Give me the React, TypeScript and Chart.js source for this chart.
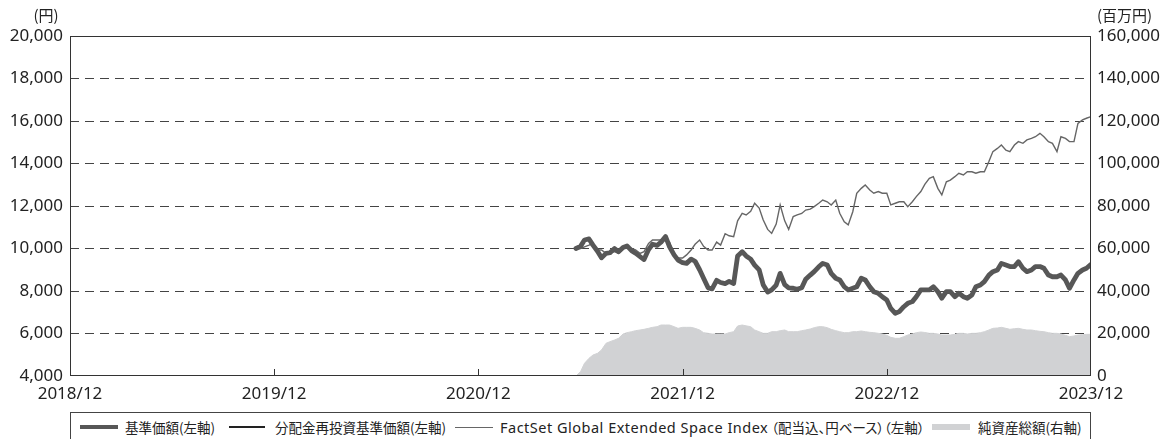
import React, { useEffect, useRef } from 'react';
import { Chart, registerables } from 'chart.js';

Chart.register(...registerables);

const CJK = '"Noto Sans CJK JP", "Noto Sans", sans-serif';
const NUM = '"Noto Sans", "Noto Sans CJK JP", sans-serif';

// Observation dates: 2021/05/23, then the 1st, 8th, 16th and 23rd of every month, then 2023/12/01
const dates: string[] = ['2021/05/23'];
for (let y = 2021; y <= 2023; y++) {
  for (let m = 1; m <= 12; m++) {
    if ((y === 2021 && m < 6) || (y === 2023 && m > 11)) continue;
    const mm = String(m).padStart(2, '0');
    ['01', '08', '16', '23'].forEach((d) => dates.push(`${y}/${mm}/${d}`));
  }
}
dates.push('2023/12/01');

// 基準価額 (円)
const fundNav = [
  10000, 10100, 10400, 10450, 10160, 9870, 9560, 9770, 9800, 10000, 9850, 10050, 10120, 9900,
  9780, 9620, 9480, 9950, 10200, 10150, 10300, 10560, 10080, 9700, 9450, 9330, 9300, 9500,
  9400, 9000, 8600, 8150, 8100, 8500, 8400, 8350, 8450, 8350, 9650, 9850, 9650, 9500,
  9220, 8990, 8300, 7950, 8050, 8280, 8830, 8300, 8150, 8130, 8080, 8150, 8550,
  8750, 8910, 9140, 9300, 9220, 8830, 8600, 8520, 8200, 8050, 8130, 8200, 8600,
  8520, 8200, 7970, 7890, 7730, 7580, 7180, 6950, 7030, 7260, 7420, 7500, 7730, 8050,
  8050, 8050, 8200, 7970, 7660, 7970, 7970, 7730, 7900, 7730, 7660, 7810, 8200, 8280,
  8440, 8750, 8910, 8990, 9300, 9220, 9150, 9150, 9380, 9070, 8910, 8990, 9150, 9150,
  9070, 8750, 8670, 8670, 8750, 8520, 8130, 8520, 8830, 8990, 9070, 9250,
];

// 分配金再投資基準価額 (円) - no distributions were paid, so it equals 基準価額
const reinvestedNav = [
  10000, 10100, 10400, 10450, 10160, 9870, 9560, 9770, 9800, 10000, 9850, 10050, 10120, 9900,
  9780, 9620, 9480, 9950, 10200, 10150, 10300, 10560, 10080, 9700, 9450, 9330, 9300, 9500,
  9400, 9000, 8600, 8150, 8100, 8500, 8400, 8350, 8450, 8350, 9650, 9850, 9650, 9500,
  9220, 8990, 8300, 7950, 8050, 8280, 8830, 8300, 8150, 8130, 8080, 8150, 8550,
  8750, 8910, 9140, 9300, 9220, 8830, 8600, 8520, 8200, 8050, 8130, 8200, 8600,
  8520, 8200, 7970, 7890, 7730, 7580, 7180, 6950, 7030, 7260, 7420, 7500, 7730, 8050,
  8050, 8050, 8200, 7970, 7660, 7970, 7970, 7730, 7900, 7730, 7660, 7810, 8200, 8280,
  8440, 8750, 8910, 8990, 9300, 9220, 9150, 9150, 9380, 9070, 8910, 8990, 9150, 9150,
  9070, 8750, 8670, 8670, 8750, 8520, 8130, 8520, 8830, 8990, 9070, 9250,
];

// FactSet Global Extended Space Index (配当込、円ベース), rebased to 10,000
const factsetIndex = [
  10000, 10000, 10080, 10160, 10240, 9930, 9930, 9770, 9850, 9850, 9770, 10000, 10080, 10000,
  9930, 9770, 9850, 10240, 10400, 10400, 10400, 10480, 10300, 9750, 9550, 9550, 9700, 9930,
  10200, 10400, 10100, 9930, 9930, 10300, 10160, 10700, 10600, 10560, 11300, 11650, 11580, 11750,
  12130, 11900, 11350, 10900, 10710, 11150, 12050, 11300, 10900, 11500, 11580, 11650, 11810, 11850,
  11970, 12130, 12280, 12200, 12050, 12280, 11660, 11260, 11110, 11730, 12600, 12830,
  12990, 12750, 12600, 12680, 12600, 12600, 12050, 12130, 12200, 12200, 11970, 12200, 12440, 12680,
  13020, 13300, 13380, 12830, 12520, 13140, 13220, 13380, 13540, 13460, 13610, 13610, 13540, 13610,
  13610, 14090, 14560, 14710, 14870, 14630, 14560, 14870, 15030, 14950, 15110, 15180, 15260, 15420,
  15260, 15030, 14950, 14560, 15260, 15180, 15030, 15030, 15890, 16050, 16130, 16210,
];

// 純資産総額 (百万円)
const netAssets = [
  0, 2020, 5960, 8330, 9880, 10680, 12240, 15390, 16160, 16940, 17720, 19760, 20390, 20860,
  21330, 21650, 21960, 22430, 22900, 23220, 24000, 24000, 24000, 23220, 22430, 22900, 22900, 22900,
  22430, 21650, 20390, 20080, 19760, 19760, 19760, 19760, 20390, 20860, 23530, 24000,
  23600, 23220, 21650, 20860, 20080, 20080, 20860, 20860, 21330, 21650, 20860, 20860, 20860, 21330,
  21650, 22120, 22750, 23220, 23220, 22750, 21960, 21330, 20860, 20390, 20390, 20860, 20860, 21180,
  20860, 20550, 20390, 20080, 19760, 19130, 18200, 17730, 17730, 18510, 19290, 19760, 20390, 20700,
  20480, 20080, 20080, 19760, 19290, 19290, 19290, 19600, 20080, 20080, 19760, 20080, 20080, 20390,
  20860, 21650, 22430, 22590, 22900, 22430, 21960, 22270, 22430, 21960, 21650, 21650, 21330, 21020,
  20860, 20390, 20080, 20080, 19760, 19130, 18510, 18820, 19290, 19450, 19600, 19600,
];

const xTickLabels = ['2018/12', '2019/12', '2020/12', '2021/12', '2022/12', '2023/12'];
const legendLabels = [
  '基準価額(左軸)',
  '分配金再投資基準価額(左軸)',
  'FactSet Global Extended Space Index（配当込、円ベース）（左軸）',
  '純資産総額(右軸)',
];
const factsetLatin = 'FactSet Global Extended Space Index';
const factsetJa = '（配当込、円ベース）（左軸）';
const leftUnit = '(円)';
const rightUnit = '(百万円)';

function toMonth(d: string): number {
  const [y, m, dd] = d.split('/').map(Number);
  return (y - 2018) * 12 + (m - 12) + (dd - 1) / 30;
}
const months = dates.map(toMonth);
const pts = (vals: number[]) => vals.map((v, i) => ({ x: months[i], y: v }));

const framePlugin = {
  id: 'frame',
  afterDraw(chart: any) {
    const { ctx, chartArea } = chart;
    const { left, right, top, bottom } = chartArea;
    const xs = chart.scales.x;
    ctx.save();
    ctx.strokeStyle = '#333';
    ctx.lineWidth = 1;
    ctx.setLineDash([]);
    ctx.strokeRect(Math.round(left) + 0.5, Math.round(top) + 0.5, Math.round(right - left) - 1, Math.round(bottom - top) - 1);
    [12, 24, 36, 48].forEach((v) => {
      const px = Math.round(xs.getPixelForValue(v)) + 0.5;
      ctx.beginPath();
      ctx.moveTo(px, bottom);
      ctx.lineTo(px, bottom - 7);
      ctx.stroke();
    });
    ctx.fillStyle = '#222';
    ctx.font = `15px ${CJK}`;
    ctx.textBaseline = 'middle';
    ctx.textAlign = 'center';
    ctx.fillText(leftUnit, 46, 15);
    ctx.textAlign = 'left';
    ctx.fillText(rightUnit, right + 6, 15);
    ctx.restore();
  },
};

export default function App() {
  const canvasRef = useRef<HTMLCanvasElement | null>(null);

  useEffect(() => {
    document.body.style.margin = '0';
    const canvas = canvasRef.current;
    if (!canvas) return;
    const tickFont = { family: NUM, size: 17 };
    const chart = new Chart(canvas, {
      type: 'line',
      data: {
        datasets: [
          {
            label: legendLabels[0],
            data: pts(fundNav),
            borderColor: '#575757',
            borderWidth: 4.8,
            yAxisID: 'y',
            pointRadius: 0,
            borderJoinStyle: 'round',
            borderCapStyle: 'round',
          },
          {
            label: legendLabels[1],
            data: pts(reinvestedNav),
            borderColor: '#3a3a3a',
            borderWidth: 1,
            yAxisID: 'y',
            pointRadius: 0,
          },
          {
            label: legendLabels[2],
            data: pts(factsetIndex),
            borderColor: '#666666',
            borderWidth: 1.4,
            yAxisID: 'y',
            pointRadius: 0,
          },
          {
            label: legendLabels[3],
            data: pts(netAssets),
            borderColor: '#d1d2d4',
            backgroundColor: '#d1d2d4',
            borderWidth: 1,
            fill: 'origin',
            yAxisID: 'y1',
            pointRadius: 0,
          },
        ],
      } as any,
      options: {
        animation: false,
        responsive: false,
        maintainAspectRatio: false,
        layout: { padding: { top: 36, left: 0, right: 0, bottom: 0 } },
        plugins: { legend: { display: false }, tooltip: { enabled: false } },
        elements: { line: { tension: 0 } },
        scales: {
          x: {
            type: 'linear',
            min: 0,
            max: 60,
            ticks: {
              stepSize: 12,
              autoSkip: false,
              maxRotation: 0,
              padding: 8,
              color: '#222',
              font: tickFont,
              callback: (v: any) => xTickLabels[Math.round(Number(v) / 12)] ?? '',
            },
            grid: { display: false, drawTicks: false },
            border: { display: false },
            afterFit: (s: any) => { s.height = 34; },
          },
          y: {
            position: 'left',
            min: 4000,
            max: 20000,
            ticks: {
              stepSize: 2000,
              padding: 7,
              color: '#222',
              font: tickFont,
              callback: (v: any) => Number(v).toLocaleString('en-US'),
            },
            grid: {
              drawTicks: false,
              color: (ctx: any) => (ctx.tick && (ctx.tick.value === 4000 || ctx.tick.value === 20000) ? 'rgba(0,0,0,0)' : '#444'),
              lineWidth: 1,
            },
            border: { display: false, dash: [9, 6] },
            afterFit: (s: any) => { s.width = 70; },
          },
          y1: {
            position: 'right',
            min: 0,
            max: 160000,
            ticks: {
              stepSize: 20000,
              padding: 6,
              color: '#222',
              font: tickFont,
              callback: (v: any) => Number(v).toLocaleString('en-US'),
            },
            grid: { display: false, drawTicks: false },
            border: { display: false },
            afterFit: (s: any) => { s.width = 84; },
          },
        },
      } as any,
      plugins: [framePlugin],
    });
    return () => chart.destroy();
  }, []);

  const textStyle: React.CSSProperties = {
    position: 'absolute',
    top: 417,
    fontFamily: CJK,
    fontSize: 13.5,
    lineHeight: '20px',
    color: '#222',
    whiteSpace: 'nowrap',
    fontFeatureSettings: '"palt"',
  };
  const sample = (left: number, width: number, height: number, color: string): React.CSSProperties => ({
    position: 'absolute',
    left,
    width,
    height,
    top: 427 - height / 2,
    background: color,
  });

  return (
    <div style={{ position: 'relative', width: 1175, height: 439, overflow: 'hidden', background: '#fff' }}>
      <canvas ref={canvasRef} width={1175} height={410} style={{ display: 'block', width: 1175, height: 410 }} />
      <div style={{ position: 'absolute', left: 70, top: 412, width: 1021, height: 30, border: '1px solid #444', boxSizing: 'border-box' }} />
      <div style={sample(80, 38, 4, '#575757')} />
      <div style={{ ...textStyle, left: 125 }}>{legendLabels[0]}</div>
      <div style={sample(229, 36, 1.5, '#222')} />
      <div style={{ ...textStyle, left: 275 }}>{legendLabels[1]}</div>
      <div style={sample(455, 38, 1, '#666')} />
      <div style={{ ...textStyle, left: 500 }} aria-label={legendLabels[2]}>
        <span style={{ fontFamily: NUM, fontSize: 14.5, letterSpacing: 0.5 }}>{factsetLatin}</span>
        <span style={{ marginLeft: 3 }}>{factsetJa}</span>
      </div>
      <div style={sample(932, 38, 6, '#d1d2d4')} />
      <div style={{ ...textStyle, left: 978 }}>{legendLabels[3]}</div>
    </div>
  );
}
